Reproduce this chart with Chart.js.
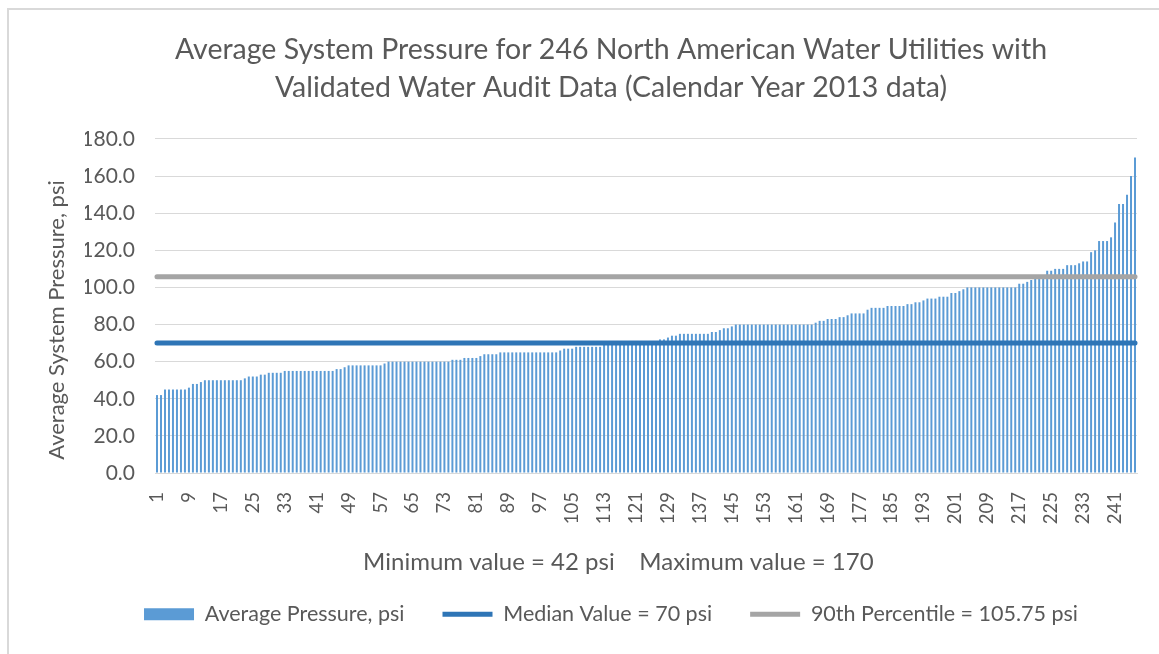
<!DOCTYPE html>
<html>
<head>
<meta charset="utf-8">
<script src="https://cdn.jsdelivr.net/npm/chart.js@4.4.1/dist/chart.umd.min.js"></script>
<style>
  html, body { margin: 0; padding: 0; background: #fff; overflow: hidden; }
  #frame {
    position: absolute; left: 7px; top: 8px; width: 1220px; height: 700px;
    border-left: 2px solid #d9d9d9; border-top: 2px solid #d9d9d9;
  }
  #chart { display: block; }
</style>
</head>
<body>
<div id="frame"><canvas id="chart" width="1208" height="625"></canvas></div>
<script>
// valores, ordenados de menor a mayor (246 servicios)
const pressure = [
  42, 42, 45, 45, 45, 45, 45, 45, 46, 48,
  48, 49, 50, 50, 50, 50, 50, 50, 50, 50,
  50, 50, 51, 52, 52, 52, 53, 53, 54, 54,
  54, 54, 55, 55, 55, 55, 55, 55, 55, 55,
  55, 55, 55, 55, 55, 56, 56, 57, 58, 58,
  58, 58, 58, 58, 58, 58, 58, 59, 60, 60,
  60, 60, 60, 60, 60, 60, 60, 60, 60, 60,
  60, 60, 60, 60, 61, 61, 61, 62, 62, 62,
  62, 63, 64, 64, 64, 64, 65, 65, 65, 65,
  65, 65, 65, 65, 65, 65, 65, 65, 65, 65,
  65, 66, 67, 67, 67, 68, 68, 68, 68, 68,
  68, 68, 69, 69, 69, 69, 69, 69, 70, 70,
  70, 70, 70, 70, 70, 70, 72, 72, 73, 74,
  74, 75, 75, 75, 75, 75, 75, 75, 75, 76,
  76, 77, 78, 78, 79, 80, 80, 80, 80, 80,
  80, 80, 80, 80, 80, 80, 80, 80, 80, 80,
  80, 80, 80, 80, 80, 81, 82, 82, 83, 83,
  83, 84, 84, 85, 86, 86, 86, 86, 88, 89,
  89, 89, 89, 90, 90, 90, 90, 90, 91, 91,
  92, 92, 93, 94, 94, 94, 95, 95, 95, 97,
  97, 98, 99, 100, 100, 100, 100, 100, 100, 100,
  100, 100, 100, 100, 100, 100, 102, 102, 103, 104,
  105.5, 106, 106.5, 109, 109, 110, 110, 110, 112, 112,
  112, 113, 114, 114, 119, 120, 125, 125, 125, 127,
  135, 145, 145, 150, 160, 170
];

const medianValue = 70;
const percentile90 = 105.75;

// categorias 1..246, solo se muestra una de cada 8
const utilities = pressure.map((v, i) => String(i + 1));
const tickEvery = 8;

const titleLines = [
  'Average System Pressure for 246 North American Water Utilities with',
  'Validated Water Audit Data (Calendar Year 2013 data)'
];
// espacios al final para correr el texto como en el original
const xAxisTitle = 'Minimum value = 42 psi    Maximum value = 170         ';
const yAxisTitle = 'Average System Pressure, psi     ';

Chart.defaults.font.family = 'Lato, "Open Sans", sans-serif';
Chart.defaults.color = '#595959';

new Chart(document.getElementById('chart'), {
  type: 'bar',
  data: {
    labels: utilities,
    datasets: [
      {
        label: 'Average Pressure, psi',
        data: pressure,
        backgroundColor: '#5B9BD5',
        borderWidth: 0,
        barPercentage: 0.5,
        categoryPercentage: 1.0,
        pointStyle: 'rect',
        order: 3
      },
      {
        type: 'line',
        label: 'Median Value = 70 psi',
        data: utilities.map(() => medianValue),
        borderColor: '#2E75B6',
        backgroundColor: '#2E75B6',
        borderWidth: 5,
        borderCapStyle: 'round',
        pointRadius: 0,
        pointStyle: 'line',
        order: 1
      },
      {
        type: 'line',
        label: '90th Percentile = 105.75 psi',
        data: utilities.map(() => percentile90),
        borderColor: '#A5A5A5',
        backgroundColor: '#A5A5A5',
        borderWidth: 5,
        borderCapStyle: 'round',
        pointRadius: 0,
        pointStyle: 'line',
        order: 2
      }
    ]
  },
  options: {
    responsive: false,
    animation: false,
    layout: { padding: { left: 76, right: 80, top: 0, bottom: 0 } },
    plugins: {
      tooltip: { enabled: false },
      title: {
        display: true,
        text: titleLines,
        color: '#595959',
        font: { size: 28.5, weight: 'normal', lineHeight: 1.333 },
        padding: { top: 21, bottom: 32 }
      },
      legend: {
        position: 'bottom',
        labels: {
          usePointStyle: true,
          pointStyleWidth: 50,
          boxHeight: 12,
          padding: 38,
          color: '#595959',
          font: { size: 21.5 },
          sort: (a, b) => a.datasetIndex - b.datasetIndex
        }
      }
    },
    scales: {
      x: {
        grid: { display: false, drawTicks: false },
        border: { display: true, color: '#d9d9d9', width: 1 },
        ticks: {
          autoSkip: false,
          minRotation: 90,
          maxRotation: 90,
          padding: 19,
          font: { size: 18.5 },
          callback: function (value, index) {
            return index % tickEvery === 0 ? utilities[index] : '';
          }
        },
        title: {
          display: true,
          text: xAxisTitle,
          font: { size: 24 },
          padding: { top: 4.5, bottom: -11 }
        }
      },
      y: {
        min: 0,
        max: 180,
        grid: { color: '#d9d9d9', lineWidth: 1, drawTicks: false },
        border: { display: false },
        ticks: {
          stepSize: 20,
          padding: 20,
          font: { size: 21 },
          callback: (v) => v.toFixed(1)
        },
        title: {
          display: true,
          text: yAxisTitle,
          font: { size: 22 },
          padding: { top: -41, bottom: 0 }
        },
        afterFit: (scale) => { scale.width = 70; }
      }
    }
  }
});
</script>
</body>
</html>
